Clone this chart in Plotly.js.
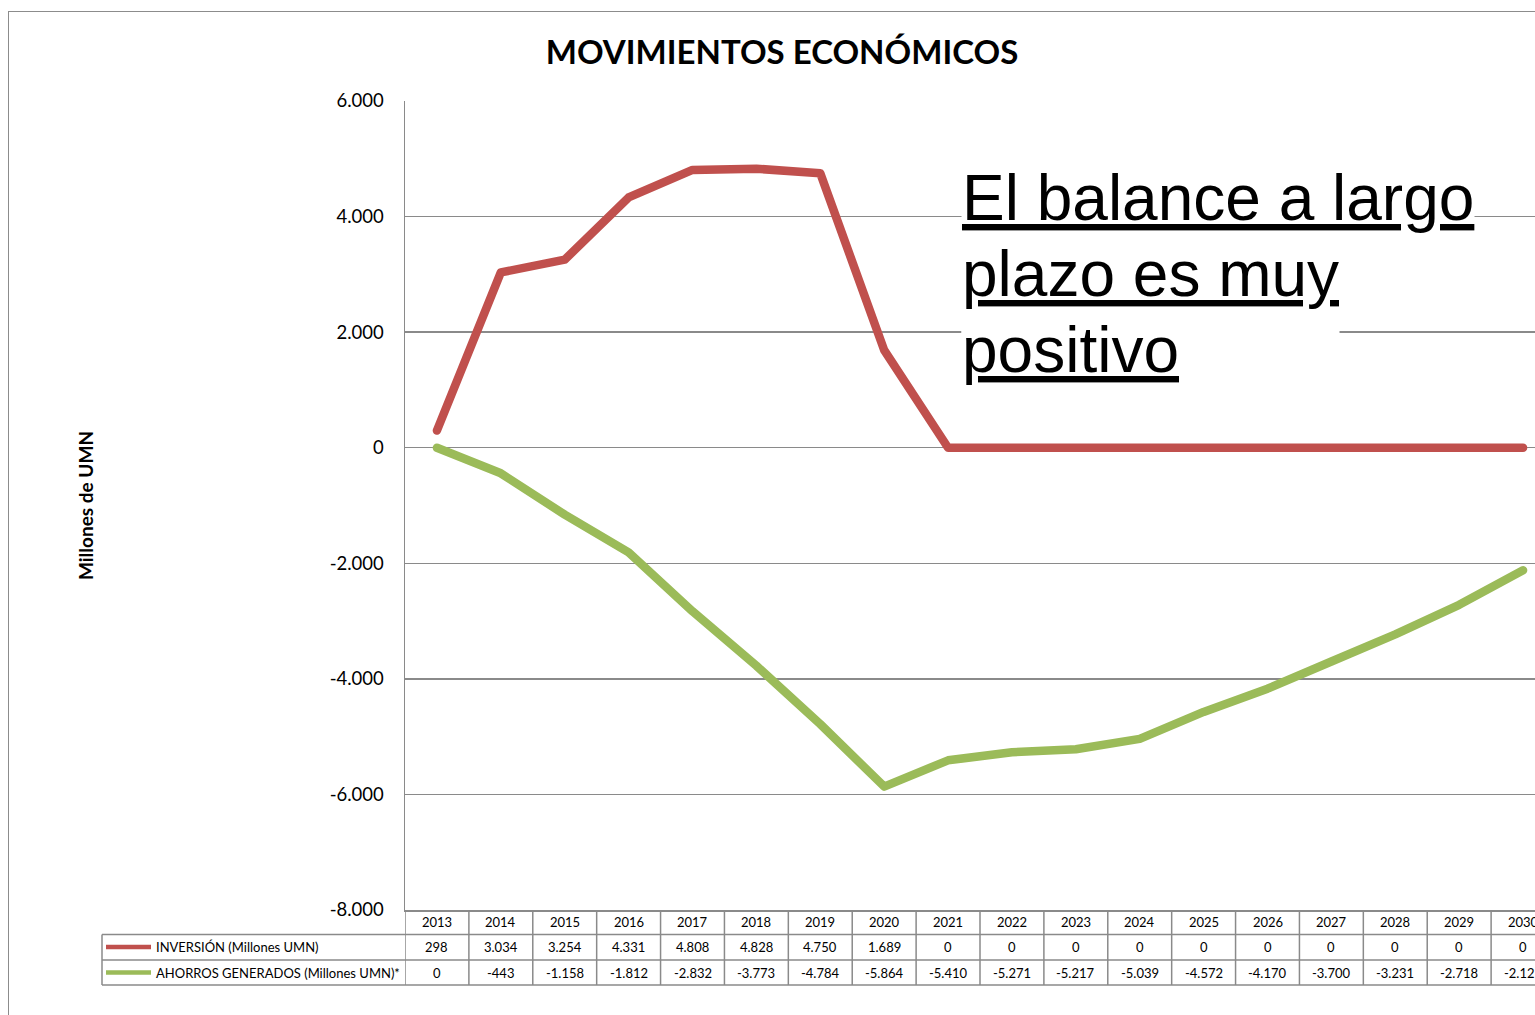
<!DOCTYPE html>
<html>
<head>
<meta charset="utf-8">
<script src="https://cdn.plot.ly/plotly-3.0.1.min.js"></script>
<style>
  html, body { margin: 0; padding: 0; background: #ffffff; overflow: hidden; width: 1535px; height: 1015px; }
  #frame { position: absolute; left: 8px; top: 11px; width: 2000px; height: 2000px; border: 1.5px solid #8c8c8c; box-sizing: border-box; }
  #chart { position: absolute; left: 0; top: 0; width: 1560px; height: 1015px; }
  #chart .scatterlayer path.js-line { stroke-linecap: round !important; stroke-linejoin: round !important; }
</style>
</head>
<body>
<div id="frame"></div>
<div id="chart"></div>
<script>
// ---- data ----
const years = [2013, 2014, 2015, 2016, 2017, 2018, 2019, 2020, 2021, 2022, 2023, 2024, 2025, 2026, 2027, 2028, 2029, 2030];
const inversion = [298, 3034, 3254, 4331, 4808, 4828, 4750, 1689, 0, 0, 0, 0, 0, 0, 0, 0, 0, 0];
const ahorros = [0, -443, -1158, -1812, -2832, -3773, -4784, -5864, -5410, -5271, -5217, -5039, -4572, -4170, -3700, -3231, -2718, -2121];
const seriesNames = ['INVERSIÓN (Millones UMN)', 'AHORROS GENERADOS (Millones UMN)*'];
const yTickVals = [6000, 4000, 2000, 0, -2000, -4000, -6000, -8000];
const yTickText = ['6.000', '4.000', '2.000', '0', '-2.000', '-4.000', '-6.000', '-8.000'];
const chartTitle = 'MOVIMIENTOS ECONÓMICOS';
const yTitle = 'Millones de UMN';
const noteLines = ['El balance a largo', 'plazo es muy', 'positivo'];

// ---- styles ----
const RED = '#C0504D';
const GREEN = '#9BBB59';
const GRID = '#8a8a8a';
const W = 1560, H = 1015;
const M = {l: 405, r: 5, t: 101, b: 105};
const plotW = W - M.l - M.r, plotH = H - M.t - M.b;
const px2x = p => (p - M.l) / plotW;
const px2y = p => (H - M.b - p) / plotH;

function fmt(n) {
  const s = Math.abs(n).toString().replace(/\B(?=(\d{3})+(?!\d))/g, '.');
  return (n < 0 ? '-' : '') + s;
}

const traces = [
  {x: years, y: inversion, name: seriesNames[0], type: 'scatter', mode: 'lines',
   line: {color: RED, width: 8.5}},
  {x: years, y: ahorros, name: seriesNames[1], type: 'scatter', mode: 'lines',
   line: {color: GREEN, width: 8.5}}
];

// table geometry
const rowTop = px2y(934.5), rowMid = px2y(960), rowBot = px2y(985);
const yHeader = px2y(922), yRow1 = px2y(947), yRow2 = px2y(972.5);
const legLeft = px2x(102);
const tableFont = {family: 'Lato, sans-serif', size: 13, color: '#000'};

const shapes = [];
[rowTop, rowMid, rowBot].forEach(yy => shapes.push({type: 'line', xref: 'paper', yref: 'paper',
  x0: legLeft, x1: 1, y0: yy, y1: yy, line: {color: GRID, width: 1.5}}));
years.concat([years[years.length - 1] + 1]).forEach(yr => shapes.push({type: 'line', xref: 'x', yref: 'paper',
  x0: yr - 0.5, x1: yr - 0.5, y0: 0, y1: rowBot, line: {color: GRID, width: 1.5}}));
shapes.push({type: 'line', xref: 'paper', yref: 'paper', x0: legLeft, x1: legLeft, y0: rowTop, y1: rowBot,
  line: {color: GRID, width: 1.5}});
// legend swatches
[[RED, yRow1], [GREEN, yRow2]].forEach(([c, yy]) => shapes.push({type: 'line', xref: 'paper', yref: 'paper',
  x0: px2x(106), x1: px2x(151), y0: yy, y1: yy, line: {color: c, width: 4.5}}));

const annotations = [];
years.forEach((yr, i) => {
  annotations.push({xref: 'x', yref: 'paper', x: yr, y: yHeader, text: String(yr), showarrow: false, font: tableFont, xanchor: 'center', yanchor: 'middle'});
  annotations.push({xref: 'x', yref: 'paper', x: yr, y: yRow1, text: fmt(inversion[i]), showarrow: false, font: tableFont, xanchor: 'center', yanchor: 'middle'});
  annotations.push({xref: 'x', yref: 'paper', x: yr, y: yRow2, text: fmt(ahorros[i]), showarrow: false, font: tableFont, xanchor: 'center', yanchor: 'middle'});
});
annotations.push({xref: 'paper', yref: 'paper', x: px2x(154), y: yRow1, text: seriesNames[0], showarrow: false, font: tableFont, xanchor: 'left', yanchor: 'middle'});
annotations.push({xref: 'paper', yref: 'paper', x: px2x(154), y: yRow2, text: seriesNames[1], showarrow: false, font: tableFont, xanchor: 'left', yanchor: 'middle'});

// note text lines (each line its own white box, as in the reference)
const NOTE_FS = 64;
const noteTops = [161, 237, 313];
const noteHeights = [null, 100, null];
noteLines.forEach((t, i) => {
  const a = {xref: 'paper', yref: 'paper', x: px2x(961), y: px2y(noteTops[i]),
    text: '<u>' + t + '</u>', showarrow: false, xanchor: 'left', yanchor: 'top', align: 'left', valign: 'top',
    bgcolor: '#ffffff', borderpad: 0,
    font: {family: 'Liberation Sans, Arial, sans-serif', size: NOTE_FS, color: '#000'}};
  if (noteHeights[i]) a.height = noteHeights[i];
  annotations.push(a);
});

const layout = {
  width: W, height: H,
  margin: M,
  paper_bgcolor: 'rgba(0,0,0,0)',
  plot_bgcolor: 'rgba(0,0,0,0)',
  showlegend: false,
  hovermode: false,
  separators: ',.',
  title: {text: chartTitle, xref: 'container', x: 782 / W, yref: 'container', y: 1 - 52 / H,
    xanchor: 'center', yanchor: 'middle',
    font: {family: 'Lato, sans-serif', size: 33, weight: 700, color: '#000'}},
  xaxis: {range: [years[0] - 0.5, years[years.length - 1] + 0.5], showticklabels: false, ticks: '',
    showgrid: false, zeroline: false, showline: true, linecolor: GRID, linewidth: 1.5, fixedrange: true},
  yaxis: {range: [-8000, 6000], tickvals: yTickVals, ticktext: yTickText, ticks: '',
    showgrid: true, gridcolor: GRID, gridwidth: 1.3, zeroline: false,
    showline: true, linecolor: GRID, linewidth: 1.5, ticklen: 0, ticklabelstandoff: 16,
    tickfont: {family: 'Lato, sans-serif', size: 18.5, color: '#000'},
    title: {text: yTitle, standoff: 231, font: {family: 'Lato, sans-serif', size: 19, weight: 700, color: '#000'}},
    fixedrange: true},
  shapes: shapes,
  annotations: annotations
};

Plotly.newPlot('chart', traces, layout, {displayModeBar: false, staticPlot: true});
</script>
</body>
</html>
